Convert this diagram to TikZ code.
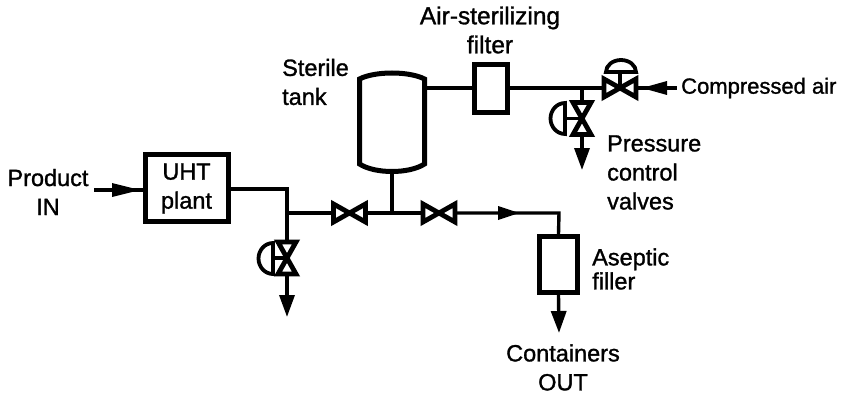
\documentclass[tikz,border=0pt]{standalone}
\usepackage{fontspec}
\setmainfont{Liberation Sans}
\newfontfamily\lblfont[FakeBold=1.2]{Liberation Sans}
\usetikzlibrary{arrows.meta,positioning}
\tikzset{
  pipe/.style={line width=3.4pt},
  flow/.style={pipe, -{Triangle[length=22pt, width=15pt]}},
  vessel/.style={draw, line width=5pt, inner sep=0pt, fill=white},
  lbl/.style={align=center, font=\lblfont\fontsize{23.5}{29}\selectfont, inner sep=0pt},
  valvebody/.style={line width=4.8pt, fill=white, line join=miter, miter limit=3},
  actuator/.style={line width=3.8pt, fill=white},
}
% valve drawn on a named coordinate, horizontal unless rotated
\newcommand{\valve}[2][0]{%
  \draw[valvebody, rotate around={#1:(#2)}]
    ([shift={(-16,9)}]#2) -- ([shift={(16,-9)}]#2) -- ([shift={(16,9)}]#2)
    -- ([shift={(-16,-9)}]#2) -- cycle;
}
\begin{document}
\begin{tikzpicture}[x=1pt, y=-1pt]
\useasboundingbox (0,0) rectangle (847,396);
% vessels
\node[vessel, minimum width=83pt, minimum height=67pt] (uht) at (187,188) {};
\node[vessel, minimum width=33pt, minimum height=48pt] (sfilter) at (491,88.5) {};
\node[vessel, minimum width=38pt, minimum height=56pt] (afilter) at (558.5,264.5) {};
\draw[vessel] (359.5,79) .. controls (375,71) and (409,71) .. (424.5,79) -- (424.5,164)
  .. controls (409,174) and (375,174) .. (359.5,164) -- cycle;
\coordinate (tankB) at (392,172);
\coordinate (tankR) at (424.5,88);
% valves and tees
\coordinate (v1) at (349.5,213);
\coordinate (v2) at (439,213);
\coordinate (v3) at (287,258);
\coordinate (v4) at (620,88);
\coordinate (v5) at (582,118.5);
\coordinate (teeA) at (287,213);
\coordinate (teeB) at (392,213);
\coordinate (teeC) at (582,88);
% pipework
\coordinate (prodIn) at (94,190);
\draw[pipe] (prodIn) -- (uht.west |- prodIn);
\draw[pipe] (uht.east |- 0,189) -| (v3);
\draw[pipe] (teeA) -- (v1);
\draw[pipe] (v1) -- (v2);
\draw[pipe] (tankB) -- (teeB);
\coordinate (corner) at (559,213);
\draw[pipe] (v2) -- (corner) -- (afilter.north);
\draw[pipe] (tankR) -- (sfilter.west |- tankR);
\draw[pipe] (sfilter.east |- tankR) -- (v4);
\draw[pipe] (teeC) -- (v5);
\coordinate (airIn) at (677,88);
\draw[pipe] (v4) -- (airIn);
% in-line arrow heads
\coordinate (a1) at (140,190);
\coordinate (a2) at (519,213);
\coordinate (a3) at (642,88);
\fill (a1) -- ++(-28,-7) -- ++(0,14) -- cycle;
\fill (a2) -- ++(-21,-7) -- ++(0,14) -- cycle;
\fill (a3) -- ++(25,-7) -- ++(0,14) -- cycle;
% vents
\coordinate (ventA) at (287,317);
\coordinate (ventB) at (582,170);
\coordinate (ventC) at (559,333);
\draw[flow] (v3) -- (ventA);
\draw[flow] (v5) -- (ventB);
\draw[flow] (afilter.south) -- (ventC);
% valves
\valve{v1}
\valve{v2}
\valve{v4}
\valve[90]{v3}
\valve[90]{v5}
% actuators
\draw[pipe] (v4) -- ++(0,-16);
\draw[actuator] (606,72) arc (180:360:15 and 12) -- cycle;
\draw[pipe] (v5) -- ++(-17,0);
\draw[actuator] (565,103) arc (90:270:14.5 and -15.5) -- cycle;
\draw[pipe] (v3) -- ++(-15,0);
\draw[actuator] (273,243) arc (90:270:14.5 and -15.5) -- cycle;
% labels
\node[lbl] (lProduct) at (48,192) {Product\\IN};
\node[lbl] (lUht) at (186.5,188.5) {UHT\\plant};
\node[lbl, align=left, anchor=west] (lTank) at (282,82) {Sterile\\tank};
\node[lbl, font=\lblfont\fontsize{24.5}{29}\selectfont] (lFilter) at (490,30) {Air-sterilizing\\filter};
\node[lbl, anchor=west, font=\lblfont\fontsize{22}{28}\selectfont] (lAir) at (681,88) {Compressed air};
\node[lbl, align=left, anchor=west] (lValves) at (607,172.5) {Pressure\\control\\valves};
\node[lbl, align=left, anchor=west, font=\lblfont\fontsize{23.5}{24}\selectfont] (lAseptic) at (592,269) {Aseptic\\filler};
\node[lbl] (lOut) at (563,367.5) {Containers\\OUT};
\end{tikzpicture}
\end{document}
